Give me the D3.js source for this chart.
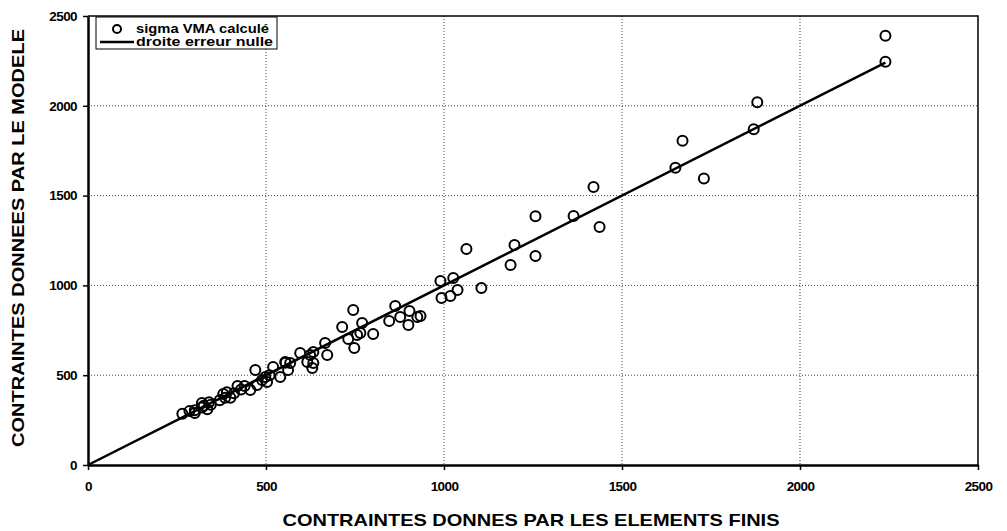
<!DOCTYPE html>
<html>
<head>
<meta charset="utf-8">
<script src="https://cdn.jsdelivr.net/npm/d3@7"></script>
<style>
  html, body { margin: 0; padding: 0; background: #fff; }
  svg { display: block; }
  text { font-family: "Liberation Sans", Arial, sans-serif; font-weight: bold; fill: #000; }
</style>
</head>
<body>
<svg id="chart" width="1007" height="531"></svg>
<script>
// Finite-element stress (x) vs. model stress (y), MPa
const feStress = [
  2240, 2240, 1880, 1870, 1670, 1650, 1730, 1420, 1437, 1364, 1257, 1257, 1198, 1187,
  1105, 1063, 1026, 1038, 1018, 990, 993, 934,
  863, 846, 877, 903, 925, 900, 801, 770, 765, 745, 714, 756, 731, 748,
  666, 672, 633, 624, 616, 633, 630, 596, 568, 554, 562, 540, 520, 498, 489, 503,
  470, 475, 456, 440, 430, 420, 410, 400, 390, 385, 380, 370, 345, 340, 335, 325,
  320, 320, 300, 300, 285, 265, 510, 555
];
const modelStress = [
  2390, 2245, 2020, 1870, 1805, 1655, 1595, 1548, 1325, 1386, 1385, 1164, 1225, 1114,
  985, 1203, 1041, 974, 941, 1025, 930, 830,
  885, 802, 824, 857, 824, 780, 729, 791, 735, 863, 768, 724, 702, 651,
  679, 612, 629, 612, 573, 568, 540, 624, 568, 573, 529, 490, 546, 490, 473, 462,
  529, 445, 418, 440, 420, 440, 400, 375, 405, 375, 395, 360, 335, 350, 310, 330,
  320, 345, 305, 290, 300, 285, 500, 570
];
const xTicks = [0, 500, 1000, 1500, 2000, 2500];
const yTicks = [0, 500, 1000, 1500, 2000, 2500];
const gridValues = [500, 1000, 1500, 2000];
const zeroErrorLine = [0, 2240];
const legendLabels = ["sigma VMA calculé", "droite erreur nulle"];
const xTitle = "CONTRAINTES DONNES PAR LES ELEMENTS FINIS";
const yTitle = "CONTRAINTES DONNEES PAR LE MODELE";

const svg = d3.select("#chart");
const plotL = 88, plotR = 978, plotT = 16, plotB = 465;

const x = d3.scaleLinear().domain([0, 2500]).range([plotL, plotR]);
const y = d3.scaleLinear().domain([0, 2500]).range([plotB, plotT]);

// dotted grid
const grid = svg.append("g").attr("stroke", "#444").attr("stroke-width", 1)
  .attr("stroke-dasharray", "1,2");
grid.selectAll("line.h").data(gridValues).join("line").attr("class", "h")
  .attr("x1", plotL).attr("x2", plotR)
  .attr("y1", d => y(d)).attr("y2", d => y(d));
grid.selectAll("line.v").data(gridValues).join("line").attr("class", "v")
  .attr("y1", plotT).attr("y2", plotB)
  .attr("x1", d => x(d)).attr("x2", d => x(d));

// frame (top and right)
svg.append("path")
  .attr("d", `M${plotL},${plotT}H${plotR}V${plotB}`)
  .attr("fill", "none").attr("stroke", "#000").attr("stroke-width", 1.5);

// axes
const fmt = d3.format("d");
const xAxis = svg.append("g").attr("transform", `translate(0,${plotB})`)
  .call(d3.axisBottom(x).tickValues(xTicks).tickFormat(fmt).tickSize(5).tickPadding(11).tickSizeOuter(0));
const yAxis = svg.append("g").attr("transform", `translate(${plotL},0)`)
  .call(d3.axisLeft(y).tickValues(yTicks).tickFormat(fmt).tickSize(5).tickPadding(6).tickSizeOuter(0));
[xAxis, yAxis].forEach(a => {
  a.select(".domain").attr("stroke", "#000").attr("stroke-width", 2.5);
  a.selectAll(".tick line").attr("stroke", "#000").attr("stroke-width", 1.5);
  a.selectAll(".tick text").style("font-size", "13.5px")
    .style("font-family", "'Liberation Sans', Arial, sans-serif").style("font-weight", "bold")
    .attr("fill", "#000").attr("letter-spacing", "-0.6px");
});

// zero-error line y = x
svg.append("line")
  .attr("x1", x(zeroErrorLine[0])).attr("y1", y(zeroErrorLine[0]))
  .attr("x2", x(zeroErrorLine[1])).attr("y2", y(zeroErrorLine[1]))
  .attr("stroke", "#000").attr("stroke-width", 2.5);

// computed VMA stress points
svg.append("g").selectAll("circle").data(d3.range(feStress.length)).join("circle")
  .attr("cx", i => x(feStress[i])).attr("cy", i => y(modelStress[i]))
  .attr("r", 5).attr("fill", "none").attr("stroke", "#000").attr("stroke-width", 2);

// legend
const lg = svg.append("g");
lg.append("rect").attr("x", 96).attr("y", 17).attr("width", 181).attr("height", 32)
  .attr("fill", "#fff").attr("stroke", "#000").attr("stroke-width", 1);
lg.append("circle").attr("cx", 117).attr("cy", 29).attr("r", 4)
  .attr("fill", "none").attr("stroke", "#000").attr("stroke-width", 2);
lg.append("line").attr("x1", 100).attr("x2", 134).attr("y1", 42).attr("y2", 42)
  .attr("stroke", "#000").attr("stroke-width", 2.5);
lg.selectAll("text").data(legendLabels).join("text")
  .attr("x", 136).attr("y", (d, i) => 33 + i * 13)
  .style("font-size", "12.5px")
  .attr("textLength", (d, i) => i === 0 ? 133 : 137)
  .attr("lengthAdjust", "spacingAndGlyphs")
  .text(d => d);

// axis titles
svg.append("text").attr("x", 531).attr("y", 526)
  .attr("text-anchor", "middle").style("font-size", "17px")
  .attr("textLength", 497).attr("lengthAdjust", "spacingAndGlyphs").text(xTitle);
svg.append("text").attr("transform", `translate(24,238) rotate(-90)`)
  .attr("text-anchor", "middle").style("font-size", "17px")
  .attr("textLength", 418).attr("lengthAdjust", "spacingAndGlyphs").text(yTitle);
</script>
</body>
</html>
